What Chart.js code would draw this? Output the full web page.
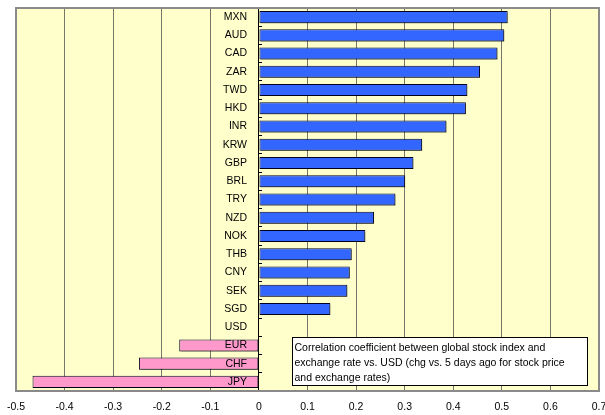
<!DOCTYPE html>
<html>
<head>
<meta charset="utf-8">
<script src="https://cdn.jsdelivr.net/npm/chart.js@4/dist/chart.umd.min.js"></script>
<style>
  html, body { margin: 0; padding: 0; background: #ffffff; }
  #wrap { width: 605px; height: 415px; }
</style>
</head>
<body>
<div id="wrap"><canvas id="c" width="605" height="415"></canvas></div>
<script>
// Currencies, top to bottom
const currencies = ['MXN','AUD','CAD','ZAR','TWD','HKD','INR','KRW','GBP','BRL','TRY','NZD','NOK','THB','CNY','SEK','SGD','USD','EUR','CHF','JPY'];
// Correlation coefficient with the global stock index
const correlations = [0.512,0.505,0.491,0.455,0.429,0.426,0.386,0.336,0.318,0.301,0.281,0.237,0.219,0.191,0.187,0.182,0.147,0,-0.164,-0.247,-0.466];
// Value axis ticks
const xTicks = [-0.5,-0.4,-0.3,-0.2,-0.1,0,0.1,0.2,0.3,0.4,0.5,0.6,0.7];
const noteLines = [
  'Correlation coefficient between global stock index and',
  'exchange rate vs. USD (chg vs. 5 days ago for stock price',
  'and exchange rates)'
];

const FONT = '"Liberation Sans", Arial, sans-serif';
// currency names sit just left of the zero line
const LABEL_GAP = -0.0245;

const plotFrame = {
  id: 'plotFrame',
  beforeDraw(chart) {
    const {ctx, chartArea: a} = chart;
    ctx.save();
    ctx.fillStyle = '#ffffff';
    ctx.fillRect(0, 0, chart.width, chart.height);
    ctx.fillStyle = '#FFFFCC';
    ctx.fillRect(a.left, a.top, a.right - a.left, a.bottom - a.top);
    ctx.restore();
  },
  beforeDatasetsDraw(chart) {
    const ctx = chart.ctx;
    ctx.save();
    ctx.shadowColor = 'rgba(0,0,0,0.35)';
    ctx.shadowOffsetX = 1.5;
    ctx.shadowOffsetY = 1.5;
    ctx.shadowBlur = 0;
  },
  afterDatasetsDraw(chart) {
    chart.ctx.restore();
  },
  afterDraw(chart) {
    const {ctx, chartArea: a, scales} = chart;
    ctx.save();
    // plot frame
    ctx.strokeStyle = '#8a8a8a';
    ctx.lineWidth = 2;
    ctx.strokeRect(a.left, a.top, a.right - a.left, a.bottom - a.top);
    // note box
    const x0 = Math.round(scales.x.getPixelForValue(0.068)) + 0.5;
    const x1 = Math.round(scales.x.getPixelForValue(0.676)) + 0.5;
    const y0 = Math.round(a.bottom - 54) + 0.5;
    const y1 = Math.round(a.bottom - 6) + 0.5;
    ctx.fillStyle = '#ffffff';
    ctx.fillRect(x0, y0, x1 - x0, y1 - y0);
    ctx.strokeStyle = '#000000';
    ctx.lineWidth = 1;
    ctx.strokeRect(x0, y0, x1 - x0, y1 - y0);
    ctx.fillStyle = '#000000';
    ctx.font = '10.5px ' + FONT;
    ctx.textAlign = 'left';
    ctx.textBaseline = 'alphabetic';
    noteLines.forEach((t, i) => ctx.fillText(t, x0 + 2, y0 + 13 + i * 15.4));
    ctx.restore();
  }
};

const noPad = s => { s.paddingTop = 0; s.paddingBottom = 0; s.paddingLeft = 0; s.paddingRight = 0; };

new Chart(document.getElementById('c'), {
  type: 'bar',
  data: {
    labels: currencies,
    datasets: [{
      data: correlations,
      backgroundColor: correlations.map(v => v < 0 ? '#FF99CC' : '#3366FF'),
      borderColor: '#000022',
      borderWidth: 1,
      borderSkipped: false,
      barPercentage: 0.66,
      categoryPercentage: 1
    }]
  },
  options: {
    indexAxis: 'y',
    responsive: false,
    animation: false,
    devicePixelRatio: 1,
    layout: { padding: { top: 8, left: 16, right: 6, bottom: 0 } },
    plugins: { legend: { display: false }, tooltip: { enabled: false } },
    scales: {
      x: {
        type: 'linear',
        min: -0.5,
        max: 0.7,
        afterBuildTicks(s) { s.ticks = xTicks.map(v => ({ value: v })); },
        afterFit(s) { s.height = 24; s.paddingLeft = 0; s.paddingRight = 0; },
        grid: { color: '#76766a', lineWidth: 1, drawTicks: false },
        border: { display: false },
        ticks: {
          padding: 10,
          color: '#000000',
          font: { family: FONT, size: 10.5 },
          callback: v => String(Math.round(v * 10) / 10)
        }
      },
      // category names
      y: {
        position: { x: LABEL_GAP },
        afterFit: noPad,
        grid: { display: false },
        border: { display: false },
        ticks: {
          z: 1,
          color: '#000000',
          font: { family: FONT, size: 10.5 }
        }
      },
      // zero line with its small inside tick marks
      y0: {
        type: 'category',
        axis: 'y',
        labels: currencies,
        position: { x: 0 },
        afterFit: noPad,
        offset: true,
        grid: { drawOnChartArea: false, drawTicks: true, tickLength: -4, color: '#000000', offset: true, z: 1 },
        border: { display: true, color: '#000000', width: 1, z: 1 },
        ticks: { display: false }
      }
    }
  },
  plugins: [plotFrame]
});
</script>
</body>
</html>
